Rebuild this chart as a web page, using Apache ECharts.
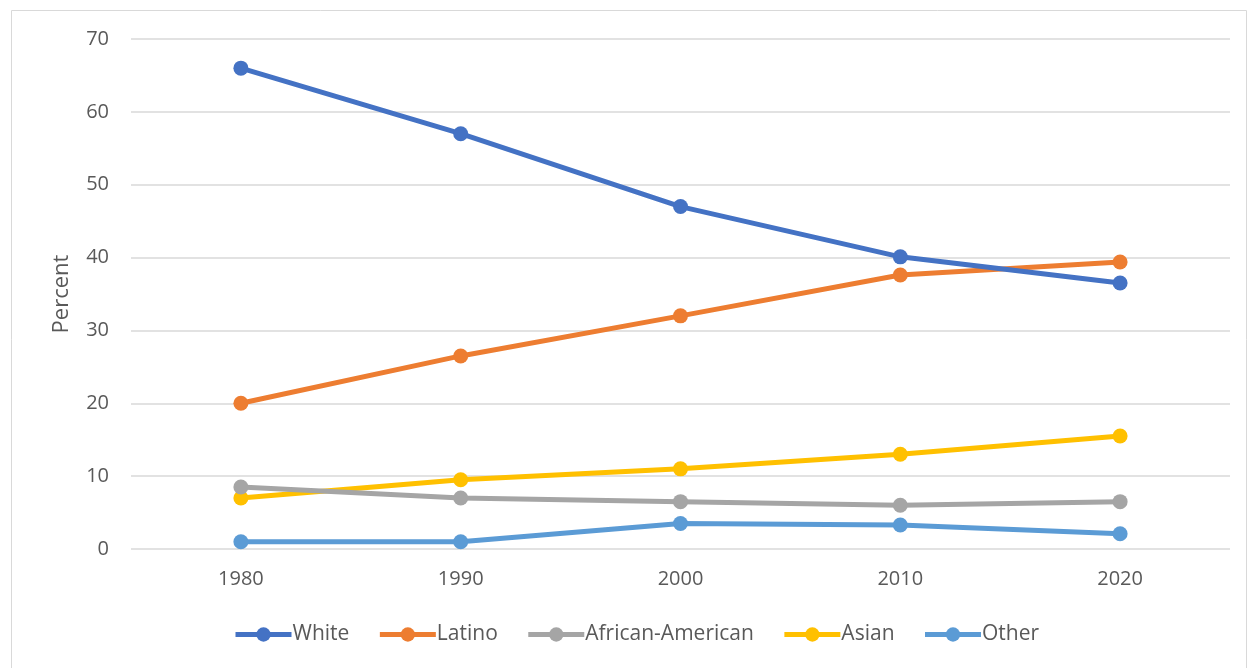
<!DOCTYPE html>
<html><head><meta charset="utf-8">
<script src="https://cdn.jsdelivr.net/npm/echarts@6/dist/echarts.min.js"></script>
<style>html,body{margin:0;padding:0;background:#fff}#c{width:1248px;height:668px}</style>
</head><body><div id="c"></div>
<script>
const years = ['1980','1990','2000','2010','2020'];
const white = [66, 57, 47, 40.1, 36.5];
const latino = [20, 26.5, 32, 37.6, 39.4];
const africanAmerican = [8.5, 7, 6.5, 6, 6.5];
const asian = [7, 9.5, 11, 13, 15.5];
const other = [1, 1, 3.5, 3.3, 2.1];
const seriesNames = ['White','Latino','African-American','Asian','Other'];
const colors = ['#4472C4','#ED7D31','#A5A5A5','#FFC000','#5B9BD5'];
const data = [white, latino, africanAmerican, asian, other];

const chart = echarts.init(document.getElementById('c'), null, {renderer:'canvas'});
chart.setOption({
  animation: false,
  color: colors,
  graphic: [{type:'rect', shape:{x:11.5,y:10.5,width:1235,height:670}, style:{fill:'none',stroke:'#D9D9D9',lineWidth:1}, silent:true}],
  grid: {left:131, right:18, top:39, bottom:119, containLabel:false},
  legend: {
    bottom: 18, left: 228, padding: 5, itemWidth: 56, itemHeight: 18, itemGap: 28,
    lineStyle: {width: 5},
    textStyle: {fontFamily:'Open Sans', fontSize:21, color:'#595959', padding:[0,0,0,-4]},
    data: seriesNames
  },
  xAxis: {
    type:'category', data: years, boundaryGap: true,
    axisLine:{show:false}, axisTick:{show:false},
    axisLabel:{fontFamily:'Open Sans', fontSize:20, color:'#595959', margin:20}
  },
  yAxis: {
    type:'value', min:0, max:70, interval:10,
    name:'Percent', nameLocation:'middle', nameGap:58, nameRotate:90,
    nameTextStyle:{fontFamily:'Open Sans', fontSize:22, color:'#595959'},
    axisLine:{show:false}, axisTick:{show:false},
    axisLabel:{fontFamily:'Open Sans', fontSize:20, color:'#595959', margin:22},
    splitLine:{lineStyle:{color:'#D9D9D9', width:1.5}}
  },
  series: seriesNames.map((n,i)=>({
    name:n, type:'line', data:data[i],
    symbol:'circle', symbolSize:15, showSymbol:true,
    lineStyle:{width:5, color:colors[i]}, itemStyle:{color:colors[i]},
    z: 10 - i
  }))
});
</script></body></html>
